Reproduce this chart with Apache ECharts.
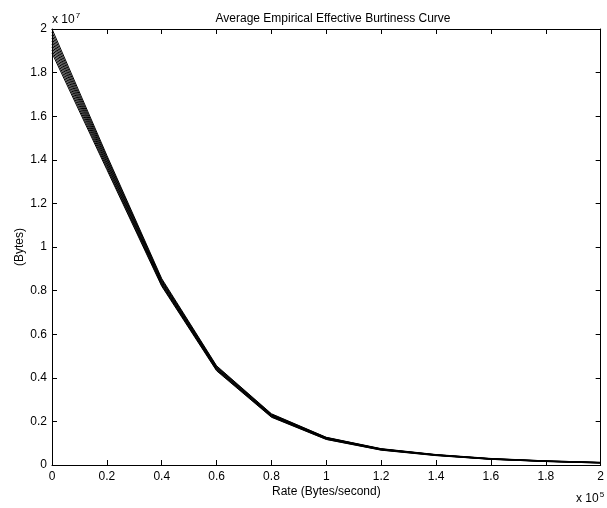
<!DOCTYPE html>
<html>
<head>
<meta charset="utf-8">
<script src="https://cdn.jsdelivr.net/npm/echarts@6/dist/echarts.min.js"></script>
<style>html,body{margin:0;padding:0;background:#fff}#c{width:607px;height:508px}</style>
</head>
<body>
<div id="c"></div>
<script>
// Rate (Bytes/second)
var rates = [0, 20000, 40000, 60000, 80000, 100000, 120000, 140000, 160000, 180000, 200000];
// Burstiness curves (Bytes), in units of 1e7
var curve1 = [2.000, 1.420, 0.855, 0.455, 0.235, 0.127, 0.075, 0.048, 0.030, 0.019, 0.012];
var curve2 = [1.986, 1.412, 0.850, 0.452, 0.233, 0.126, 0.074, 0.047, 0.029, 0.019, 0.012];
var curve3 = [1.972, 1.404, 0.846, 0.449, 0.231, 0.125, 0.073, 0.047, 0.029, 0.018, 0.011];
var curve4 = [1.958, 1.396, 0.841, 0.446, 0.229, 0.124, 0.073, 0.046, 0.028, 0.018, 0.011];
var curve5 = [1.945, 1.388, 0.837, 0.443, 0.227, 0.122, 0.072, 0.046, 0.028, 0.017, 0.011];
var curve6 = [1.931, 1.380, 0.833, 0.440, 0.225, 0.121, 0.071, 0.045, 0.027, 0.017, 0.010];
var curve7 = [1.917, 1.372, 0.828, 0.438, 0.223, 0.120, 0.070, 0.045, 0.027, 0.017, 0.010];
var curve8 = [1.903, 1.363, 0.824, 0.435, 0.221, 0.118, 0.069, 0.044, 0.026, 0.016, 0.009];
var curve9 = [1.890, 1.355, 0.820, 0.432, 0.219, 0.117, 0.068, 0.043, 0.026, 0.016, 0.009];
var curves = [curve1, curve2, curve3, curve4, curve5, curve6, curve7, curve8, curve9];
var xTickLabels = ['0','0.2','0.4','0.6','0.8','1','1.2','1.4','1.6','1.8','2'];
var yTickLabels = ['0','0.2','0.4','0.6','0.8','1','1.2','1.4','1.6','1.8','2'];
var titleText = 'Average Empirical Effective Burtiness Curve';
var xName = 'Rate (Bytes/second)';
var yName = '(Bytes)';

var FONT = 'Liberation Sans, Arial, Helvetica, sans-serif';
var FS = 12;
var chart = echarts.init(document.getElementById('c'), null, {renderer: 'canvas'});

function xl(v){ var i = Math.round(v / 20000); return xTickLabels[i] !== undefined ? xTickLabels[i] : ''; }
function yl(v){ var i = Math.round(v / 2000000); return yTickLabels[i] !== undefined ? yTickLabels[i] : ''; }

var series = curves.map(function(c){
  return {
    type: 'line',
    data: rates.map(function(r, i){ return [r, c[i] * 1e7]; }),
    showSymbol: false,
    symbol: 'none',
    lineStyle: {color: '#000', width: 1},
    silent: true,
    animation: false
  };
});

var axisCommon = {
  axisLine: {show: true, onZero: false, lineStyle: {color: '#000', width: 1}},
  axisTick: {show: true, inside: true, length: 5, lineStyle: {color: '#000', width: 1}},
  splitLine: {show: false}
};

chart.setOption({
  animation: false,
  backgroundColor: '#fff',
  title: {
    text: titleText, left: 328, top: 8, textAlign: 'center',
    textStyle: {fontFamily: FONT, fontSize: FS, fontWeight: 'normal', color: '#000'}
  },
  grid: {left: 52, right: 3, top: 29, bottom: 43, containLabel: false},
  xAxis: [
    Object.assign({}, axisCommon, {
      type: 'value', min: 0, max: 200000, interval: 20000, position: 'bottom',
      name: xName, nameLocation: 'middle', nameGap: 21, nameMoveOverlap: false,
      nameTextStyle: {fontFamily: FONT, fontSize: FS, color: '#000'},
      axisLabel: {show: true, formatter: xl, margin: 6, fontFamily: FONT, fontSize: FS, color: '#000'}
    }),
    Object.assign({}, axisCommon, {
      type: 'value', min: 0, max: 200000, interval: 20000, position: 'top',
      axisLabel: {show: false}
    })
  ],
  yAxis: [
    Object.assign({}, axisCommon, {
      type: 'value', min: 0, max: 20000000, interval: 2000000, position: 'left',
      name: yName, nameLocation: 'middle', nameGap: 26, nameRotate: 90, nameMoveOverlap: false,
      nameTextStyle: {fontFamily: FONT, fontSize: FS, color: '#000'},
      axisLabel: {show: true, formatter: yl, margin: 5, fontFamily: FONT, fontSize: FS, color: '#000'}
    }),
    Object.assign({}, axisCommon, {
      type: 'value', min: 0, max: 20000000, interval: 2000000, position: 'right',
      axisLabel: {show: false}
    })
  ],
  graphic: [
    {
      type: 'text', left: 52, top: 12,
      style: {
        text: '{b|x 10}{s|7}',
        rich: {
          b: {fontFamily: FONT, fontSize: FS, fill: '#000', verticalAlign: 'bottom', lineHeight: 14},
          s: {fontFamily: FONT, fontSize: 8, fill: '#000', verticalAlign: 'top', lineHeight: 14, padding: [0,0,6,1]}
        }
      }
    },
    {
      type: 'text', left: 576, top: 491,
      style: {
        text: '{b|x 10}{s|5}',
        rich: {
          b: {fontFamily: FONT, fontSize: FS, fill: '#000', verticalAlign: 'bottom', lineHeight: 14},
          s: {fontFamily: FONT, fontSize: 8, fill: '#000', verticalAlign: 'top', lineHeight: 14, padding: [0,0,6,1]}
        }
      }
    }
  ],
  series: series
});
</script>
</body>
</html>
